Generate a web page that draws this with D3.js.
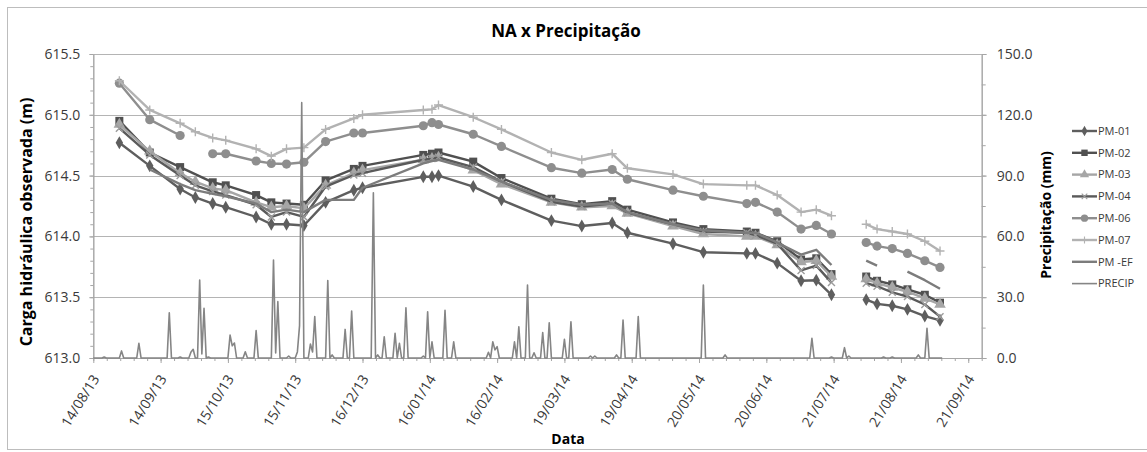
<!DOCTYPE html>
<html>
<head>
<meta charset="utf-8">
<script src="https://cdn.jsdelivr.net/npm/d3@7"></script>
<style>
    body { margin: 0; background: #fff; }
    text { font-family: "Open Sans", "Liberation Sans", sans-serif; }
</style>
</head>
<body>
<div id="root"></div>
<script>
// measurement dates (blank row on 28/07/14 breaks the lines)
var dates = [
    "2013-08-26", "2013-09-09", "2013-09-23", "2013-09-30", "2013-10-08", "2013-10-14",
    "2013-10-28", "2013-11-04", "2013-11-11", "2013-11-19", "2013-11-29", "2013-12-12",
    "2013-12-16", "2014-01-13", "2014-01-17", "2014-01-20", "2014-02-05", "2014-02-18",
    "2014-03-13", "2014-03-27", "2014-04-10", "2014-04-17", "2014-05-08", "2014-05-22",
    "2014-06-11", "2014-06-15", "2014-06-25", "2014-07-06", "2014-07-13", "2014-07-20",
    "2014-07-28", "2014-08-05", "2014-08-10", "2014-08-17", "2014-08-24", "2014-09-01",
    "2014-09-08"
];

var pm01 = [614.77, 614.58, 614.39, 614.32, 614.27, 614.24, 614.16, 614.10, 614.10, 614.09,
    614.28, 614.38, 614.40, 614.49, 614.49, 614.50, 614.41, 614.30, 614.13, 614.085, 614.11,
    614.03, 613.94, 613.87, 613.86, 613.86, 613.78, 613.635, 613.64, 613.52, null,
    613.48, 613.445, 613.43, 613.40, 613.345, 613.31];
var pm02 = [614.95, 614.69, 614.57, null, 614.445, 614.42, 614.34, 614.28, 614.27, 614.26,
    614.46, 614.555, 614.58, 614.67, 614.68, 614.69, 614.615, 614.48, 614.31, 614.265, 614.29,
    614.22, 614.115, 614.06, 614.04, 614.03, 613.96, 613.81, 613.82, 613.69, null,
    613.67, 613.635, 613.605, 613.565, 613.52, 613.455];
var pm03 = [614.92, 614.70, 614.52, 614.45, 614.395, 614.38, 614.28, 614.24, 614.25, 614.23,
    614.42, 614.52, 614.545, 614.63, 614.64, 614.65, 614.545, 614.43, 614.28, 614.24, 614.25,
    614.19, 614.085, 614.02, 614.00, 614.00, 613.93, 613.79, 613.80, 613.67, null,
    613.65, 613.615, 613.58, 613.545, 613.49, 613.44];
var pm04 = [614.89, 614.67, 614.50, 614.42, 614.37, 614.34, 614.26, 614.16, 614.20, 614.16,
    614.41, 614.505, 614.52, 614.63, 614.64, 614.65, 614.57, 614.45, 614.285, 614.245, 614.27,
    614.195, 614.10, 614.04, 614.03, 614.01, 613.94, 613.72, 613.76, 613.62, null,
    613.615, 613.59, 613.54, 613.505, 613.44, 613.34];
var pm06 = [615.26, 614.96, 614.83, null, 614.68, 614.68, 614.62, 614.60, 614.595, 614.61,
    614.78, 614.85, 614.85, 614.91, 614.935, 614.92, 614.84, 614.74, 614.565, 614.52, 614.55,
    614.47, 614.38, 614.33, 614.27, 614.28, 614.20, 614.06, 614.09, 614.02, null,
    613.95, 613.92, 613.90, 613.86, 613.80, 613.745];
var pm07 = [615.28, 615.04, 614.93, 614.86, 614.81, 614.79, 614.72, 614.66, 614.72, 614.73,
    614.88, 614.97, 615.00, 615.04, 615.045, 615.08, 614.98, 614.88, 614.69, 614.63, 614.68,
    614.56, 614.51, 614.43, 614.42, 614.42, 614.34, 614.20, 614.22, 614.17, null,
    614.10, 614.06, 614.04, 614.02, 613.96, 613.88];
var pmEF = [null, 614.55, 614.43, 614.38, 614.35, 614.33, 614.27, 614.20, 614.22, 614.20,
    614.30, 614.30, 614.40, 614.60, 614.62, 614.63, 614.55, 614.45, 614.30, 614.26, 614.27,
    614.20, 614.10, 614.05, 614.03, 614.03, 613.95, 613.85, 613.89, 613.765, null,
    613.80, 613.76, null, 613.71, 613.64, 613.57];

// daily rain: days after 14/08/13 with rain (mm); every other day is 0
var precipStart = "2013-08-14";
var precipLastDay = 391;
var rainDays = [5, 13, 21, 35, 40, 45, 46, 49, 50, 51, 53, 63, 64, 65, 70, 75, 83, 84, 85, 90,
    93, 94, 95, 96, 100, 101, 102, 108, 110, 116, 119, 129, 131, 134, 139, 141, 144, 152, 154,
    156, 162, 166, 182, 184, 185, 186, 194, 196, 200, 203, 207, 210, 217, 220, 229, 231, 241,
    244, 251, 281, 291, 331, 340, 346, 348, 364, 368, 380, 384];
var rainMm = [0.5, 3.5, 7.2, 22.3, 0.5, 3, 4.3, 38.5, 2, 24.5, 0.5, 11.3, 6, 7.4, 3.1, 13.5,
    48.3, 2.5, 27.8, 1, 0, 3, 16, 126, 6.9, 3, 20.4, 38.2, 1.5, 14.1, 23.2, 81.5, 1.5, 10.5,
    12.2, 7.2, 24.8, 1, 22.8, 8, 23.5, 8, 2.8, 8, 4, 5.6, 8, 15.4, 36, 2.6, 12.5, 17.4, 9.2,
    17.9, 1, 1, 1.5, 18.7, 20.4, 36, 1.5, 9.7, 0.5, 5.1, 1, 0.5, 0.5, 1.5, 14.6];

var xTickLabels = ["14/08/13", "14/09/13", "15/10/13", "15/11/13", "16/12/13", "16/01/14",
    "16/02/14", "19/03/14", "19/04/14", "20/05/14", "20/06/14", "21/07/14", "21/08/14",
    "21/09/14"];
var leftTicks = [613.0, 613.5, 614.0, 614.5, 615.0, 615.5];
var rightTicks = [0, 30, 60, 90, 120, 150];

var series = [
    { name: "PM-01", values: pm01, color: "#5e5e5e", marker: "diamond" },
    { name: "PM-02", values: pm02, color: "#505050", marker: "square", connect: true },
    { name: "PM-03", values: pm03, color: "#a6a6a6", marker: "triangle" },
    { name: "PM-04", values: pm04, color: "#5a5a5a", marker: "x", markerColor: "#9c9c9c" },
    { name: "PM-06", values: pm06, color: "#8e8e8e", marker: "circle" },
    { name: "PM-07", values: pm07, color: "#b2b2b2", marker: "plus" },
    { name: "PM -EF", values: pmEF, color: "#7c7c7c", marker: null }
];

// set the dimensions of the plot area
var width = 1147, height = 452;
var plot = { left: 93.3, right: 981.7, top: 54, bottom: 358 };

var svg = d3
    .select("#root")
    .append("svg")
    .attr("width", width)
    .attr("height", height);

// chart border
svg.append("rect")
    .attr("x", 7.5).attr("y", 7.5)
    .attr("width", 1150).attr("height", 442)
    .attr("fill", "none")
    .attr("stroke", "#bdbdbd");

var parseIso = d3.timeParse("%Y-%m-%d");
var parseTick = d3.timeParse("%d/%m/%y");
var start = parseIso(precipStart);
var dayMs = 864e5;

var x = d3.scaleTime()
    .domain([start, new Date(start.getTime() + 409.2 * dayMs)])
    .range([plot.left, plot.right]);
var yL = d3.scaleLinear().domain([613, 615.5]).range([plot.bottom, plot.top]);
var yR = d3.scaleLinear().domain([0, 150]).range([plot.bottom, plot.top]);

// gridlines
svg.append("g")
    .selectAll("line")
    .data(leftTicks.slice(1))
    .enter()
    .append("line")
    .attr("x1", plot.left).attr("x2", plot.right)
    .attr("y1", (d) => Math.round(yL(d)) + 0.5)
    .attr("y2", (d) => Math.round(yL(d)) + 0.5)
    .attr("stroke", "#b4b4b4")
    .attr("stroke-width", 1);

function styleAxis(g) {
    g.select(".domain").attr("stroke", "#a6a6a6");
    g.selectAll(".tick line").attr("stroke", "#a6a6a6");
    g.selectAll(".tick text")
        .attr("fill", "#3a3a3a")
        .style("font-size", "14px");
}

// Add left Y axis
var leftMinor = d3.range(0, 26).map((i) => 613 + i * 0.1);
svg.append("g")
    .attr("transform", "translate(" + plot.left + ",0)")
    .call(d3.axisLeft(yL).tickValues(leftMinor).tickSize(3).tickFormat("").tickSizeOuter(0))
    .call(styleAxis);
svg.append("g")
    .attr("transform", "translate(" + plot.left + ",0)")
    .call(d3.axisLeft(yL).tickValues(leftTicks).tickSize(4).tickPadding(9)
        .tickFormat(d3.format(".1f")).tickSizeOuter(0))
    .call(styleAxis);

// Add right Y axis
var rightMinor = d3.range(0, 11).map((i) => i * 15);
svg.append("g")
    .attr("transform", "translate(" + plot.right + ",0)")
    .call(d3.axisRight(yR).tickValues(rightMinor).tickSize(4).tickFormat("").tickSizeOuter(0))
    .call(styleAxis);
svg.append("g")
    .attr("transform", "translate(" + plot.right + ",0)")
    .call(d3.axisRight(yR).tickValues(rightTicks).tickSize(5).tickPadding(10)
        .tickFormat(d3.format(".1f")).tickSizeOuter(0))
    .call(styleAxis);

// Add X axis
var xMinor = d3.range(0, 67).map((i) => new Date(start.getTime() + i * 6.2 * dayMs));
svg.append("g")
    .attr("transform", "translate(0," + plot.bottom + ")")
    .call(d3.axisBottom(x).tickValues(xMinor).tickSize(3).tickFormat("").tickSizeOuter(0))
    .call(styleAxis);
var xAxis = svg.append("g")
    .attr("transform", "translate(0," + plot.bottom + ")")
    .call(d3.axisBottom(x).tickValues(xTickLabels.map(parseTick)).tickSize(5)
        .tickFormat(d3.timeFormat("%d/%m/%y")).tickSizeOuter(0))
    .call(styleAxis);
xAxis.selectAll(".tick text")
    .attr("text-anchor", "end")
    .attr("transform", "translate(2,18) rotate(-58)")
    .attr("dx", "0")
    .attr("dy", "0.35em")
    .attr("y", 0)
    .attr("x", 0);

// piezometer lines and markers
var plotG = svg.append("g");

function markerPath(type) {
    if (type === "x") return "M-3.5,-3.5L3.5,3.5M-3.5,3.5L3.5,-3.5";
    if (type === "plus") return "M-4.5,0L4.5,0M0,-4.5L0,4.5";
    var sym = {
        diamond: [d3.symbolDiamond, 48],
        square: [d3.symbolSquare, 64],
        triangle: [d3.symbolTriangle, 58],
        circle: [d3.symbolCircle, 66]
    }[type];
    return d3.symbol().type(sym[0]).size(sym[1])();
}

function drawMarker(g, type, color) {
    var stroked = type === "x" || type === "plus";
    return g.append("path")
        .attr("d", markerPath(type))
        .attr("fill", stroked ? "none" : color)
        .attr("stroke", stroked ? color : "none")
        .attr("stroke-width", stroked ? 1.4 : 0);
}

series.forEach((s) => {
    var pts = dates.map((d, i) => ({ date: parseIso(d), v: s.values[i] }));
    var linePts = s.connect ? pts.filter((p, i) => p.v !== null || i === 30) : pts;
    var line = d3.line()
        .defined((p) => p.v !== null)
        .x((p) => x(p.date))
        .y((p) => yL(p.v));
    plotG.append("path")
        .datum(linePts)
        .attr("d", line)
        .attr("fill", "none")
        .attr("stroke", s.color)
        .attr("stroke-width", 2.4)
        .attr("stroke-linejoin", "round");
    if (s.marker) {
        pts.filter((p) => p.v !== null).forEach((p) => {
            drawMarker(plotG, s.marker, s.markerColor || s.color)
                .attr("transform", "translate(" + x(p.date) + "," + yL(p.v) + ")");
        });
    }
});

// precipitation, secondary axis
var rainByDay = {};
rainDays.forEach((d, i) => { rainByDay[d] = rainMm[i]; });
var precip = d3.range(0, precipLastDay + 1).map((d) => ({
    date: new Date(start.getTime() + d * dayMs),
    mm: rainByDay[d] || 0
}));
plotG.append("path")
    .datum(precip)
    .attr("d", d3.line().x((p) => x(p.date)).y((p) => yR(p.mm)))
    .attr("fill", "none")
    .attr("stroke", "#858585")
    .attr("stroke-width", 1.6)
    .attr("stroke-linejoin", "round");

// titles
svg.append("text")
    .attr("x", 566).attr("y", 37)
    .attr("text-anchor", "middle")
    .style("font-size", "17px")
    .style("font-weight", "bold")
    .text("NA x Precipitação");
svg.append("text")
    .attr("x", 568).attr("y", 444)
    .attr("text-anchor", "middle")
    .style("font-size", "14px")
    .style("font-weight", "bold")
    .text("Data");
svg.append("text")
    .attr("transform", "translate(32,222) rotate(-90)")
    .attr("text-anchor", "middle")
    .style("font-size", "16px")
    .style("font-weight", "bold")
    .text("Carga hidráulica observada (m)");
svg.append("text")
    .attr("transform", "translate(1051,215) rotate(-90)")
    .attr("text-anchor", "middle")
    .style("font-size", "14px")
    .style("font-weight", "bold")
    .text("Precipitação (mm)");

// legend
var legendItems = series.map((s) => ({ name: s.name, color: s.color, marker: s.marker,
    markerColor: s.markerColor, w: 2.4 }))
    .concat([{ name: "PRECIP", color: "#858585", marker: null, w: 1.6 }]);
legendItems.forEach((item, i) => {
    var ly = 131 + i * 21.8;
    var g = svg.append("g").attr("transform", "translate(1072," + ly + ")");
    g.append("line")
        .attr("x1", 0).attr("x2", 25)
        .attr("stroke", item.color)
        .attr("stroke-width", item.w);
    if (item.marker) {
        drawMarker(g, item.marker, item.markerColor || item.color)
            .attr("transform", "translate(12.5,0) scale(0.8)");
    }
    g.append("text")
        .attr("x", 26).attr("y", 0)
        .attr("dy", "0.35em")
        .attr("fill", "#3a3a3a")
        .style("font-size", "11px")
        .text(item.name);
});
</script>
</body>
</html>
